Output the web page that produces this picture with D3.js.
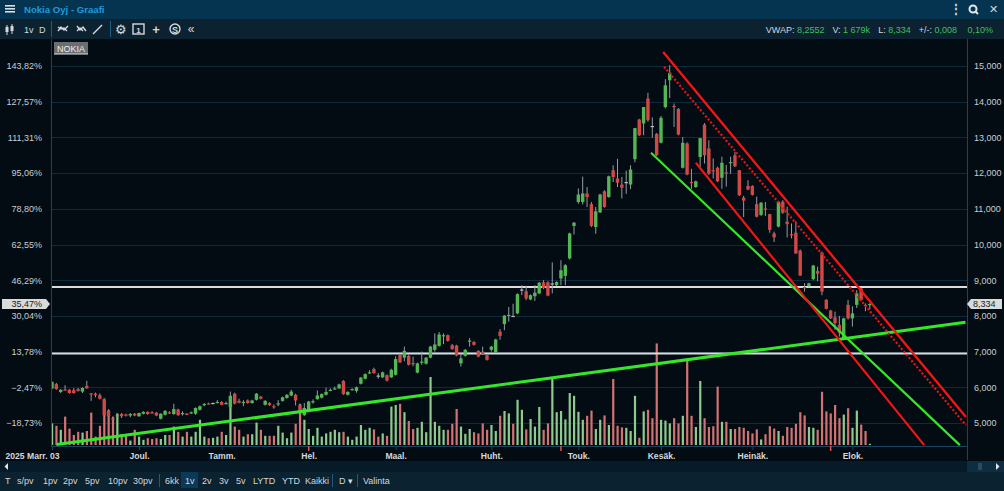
<!DOCTYPE html>
<html lang="fi">
<head>
  <meta charset="utf-8">
  <title>Nokia Oyj - Graafi</title>
  <script src="https://d3js.org/d3.v7.min.js"></script>
  <style>
    body { margin: 0; background: #020c12; overflow: hidden; }
    svg { display: block; font-family: "Liberation Sans", Arial, sans-serif; }
    .ax text { font-size: 9px; fill: #c9ced3; }
    .ax path { display: none; }
    .xax text { font-size: 8.6px; font-weight: bold; fill: #d4d9de; }
    .xax line { stroke: #1b4460; }
    .ui { font-size: 9px; fill: #d2d8de; }
    .grn { font-size: 9px; fill: #3cc15a; }
  </style>
</head>
<body>
  <div id="chart"></div>
  <script>
    // päivittäiset kurssit, 3.11.2025 ->
    var opens = [
      5.97,6.09,5.87,5.94,5.93,5.92,5.95,5.88,6.04,5.83,
      5.82,5.78,5.67,5.34,5.13,5.19,5.25,5.24,5.21,5.26,
      5.19,5.26,5.31,5.30,5.29,5.12,5.23,5.30,5.25,5.38,
      5.27,5.26,5.27,5.26,5.37,5.51,5.55,5.56,5.58,5.59,
      5.55,5.45,5.82,5.62,5.58,5.63,5.56,5.65,5.74,5.51,
      5.56,5.47,5.54,5.62,5.70,5.77,5.79,5.50,5.22,5.37,
      5.60,5.67,5.71,5.79,5.92,5.96,5.97,6.18,5.79,5.94,
      5.90,6.10,6.24,6.41,6.51,6.33,6.28,6.34,6.28,6.35,
      6.91,6.83,6.88,6.68,6.41,6.71,6.66,6.83,7.05,7.16,
      7.45,7.46,7.18,7.17,6.67,6.88,7.30,7.27,7.02,7.00,
      6.90,7.05,6.98,7.56,7.77,8.02,8.00,8.07,8.74,8.69,
      8.46,8.55,8.63,8.94,8.94,8.91,8.86,9.05,9.12,9.61,
      10.52,11.19,11.19,11.43,11.13,10.49,10.90,11.49,11.33,12.08,
      11.85,11.68,11.75,11.68,12.39,13.50,13.39,14.09,13.32,13.10,
      12.85,13.85,14.60,13.88,13.80,12.15,12.83,11.75,11.61,12.45,
      13.36,12.69,12.08,12.15,11.87,12.02,12.30,12.50,12.08,11.31,
      11.64,11.64,11.13,10.83,11.01,10.85,10.31,10.50,11.20,10.64,
      10.29,10.33,9.83,8.81,8.84,9.03,9.26,9.77,8.45,8.15,
      7.96,7.75,7.38,8.31,7.93,8.31,8.77,8.31,8.32
    ];
    var highs = [
      6.16,6.12,5.95,6.06,5.95,5.98,5.98,6.00,6.18,5.84,
      5.85,5.83,5.70,5.38,5.16,5.26,5.28,5.26,5.28,5.28,
      5.29,5.33,5.33,5.33,5.31,5.27,5.36,5.33,5.54,5.40,
      5.33,5.28,5.32,5.44,5.49,5.56,5.57,5.58,5.64,5.61,
      5.60,5.88,5.85,5.68,5.64,5.66,5.65,5.84,5.76,5.64,
      5.58,5.52,5.64,5.74,5.81,5.93,5.82,5.52,5.56,5.62,
      5.66,5.91,5.83,5.99,5.97,6.02,6.10,6.20,5.89,5.97,
      6.02,6.29,6.39,6.48,6.55,6.40,6.44,6.36,6.52,6.87,
      6.94,7.14,6.91,6.86,6.69,7.00,6.85,7.16,7.51,7.55,
      7.51,7.48,7.21,7.19,6.95,7.07,7.38,7.29,7.04,7.14,
      6.92,7.16,7.36,7.63,8.02,8.25,8.34,8.63,8.86,8.84,
      8.60,8.86,8.95,9.00,8.97,9.50,8.97,9.56,9.45,10.33,
      10.63,11.57,11.90,11.61,11.19,11.05,11.42,11.52,11.93,12.22,
      12.40,11.89,12.07,12.22,13.26,13.52,13.85,14.25,13.56,13.12,
      13.60,14.63,15.02,13.95,13.82,13.01,12.86,12.12,11.79,12.98,
      13.40,12.92,12.41,12.18,12.46,12.23,12.46,12.59,12.09,11.36,
      11.80,11.66,11.34,11.19,11.19,10.86,10.36,11.22,11.24,11.06,
      10.59,10.65,9.86,8.92,8.93,9.43,9.38,9.80,8.47,8.17,
      8.12,8.00,7.95,8.45,8.27,8.72,8.79,8.35,8.35
    ];
    var lows = [
      5.95,5.93,5.84,5.91,5.82,5.82,5.88,5.84,5.96,5.62,
      5.72,5.66,5.20,5.17,5.08,5.17,5.14,5.18,5.16,5.19,
      5.17,5.24,5.23,5.26,5.19,5.10,5.21,5.25,5.23,5.20,
      5.21,5.22,5.25,5.23,5.35,5.47,5.52,5.53,5.55,5.50,
      5.52,5.43,5.52,5.55,5.47,5.54,5.54,5.63,5.66,5.49,
      5.48,5.40,5.47,5.60,5.68,5.75,5.49,5.28,5.20,5.35,
      5.54,5.65,5.69,5.77,5.89,5.93,5.95,5.79,5.77,5.91,
      5.85,6.08,6.22,6.38,6.38,6.24,6.26,6.16,6.26,6.33,
      6.68,6.73,6.61,6.59,6.39,6.63,6.64,6.81,7.00,7.14,
      7.21,7.28,7.05,6.87,6.58,6.86,7.14,7.17,6.84,6.91,
      6.75,7.00,6.96,7.33,7.60,7.84,7.97,8.05,8.58,8.44,
      8.44,8.42,8.61,8.75,8.55,8.63,8.84,8.86,8.86,9.58,
      10.28,11.14,11.12,11.05,10.49,10.30,10.88,11.03,11.31,11.75,
      11.61,11.29,11.42,11.55,12.30,13.04,13.06,13.44,12.99,12.48,
      12.83,13.81,14.10,13.29,13.06,12.13,11.94,11.56,11.59,12.17,
      12.27,11.95,11.85,11.75,11.56,11.62,11.98,12.17,11.36,10.77,
      11.52,11.37,10.76,10.80,10.80,10.33,10.07,10.48,10.86,10.20,
      10.17,9.74,9.12,8.68,8.80,9.00,8.97,8.58,8.18,7.91,
      7.61,7.42,7.36,7.90,7.70,8.22,8.43,8.13,8.18
    ];
    var closes = [
      6.152,5.95,5.93,5.93,5.84,5.84,5.90,5.98,5.97,5.81,
      5.78,5.68,5.22,5.19,5.12,5.22,5.19,5.21,5.25,5.21,
      5.28,5.31,5.25,5.29,5.21,5.26,5.34,5.28,5.39,5.22,
      5.28,5.25,5.30,5.42,5.47,5.53,5.54,5.56,5.59,5.51,
      5.56,5.76,5.54,5.57,5.59,5.56,5.63,5.82,5.68,5.62,
      5.50,5.46,5.55,5.72,5.79,5.88,5.63,5.30,5.42,5.60,
      5.61,5.77,5.81,5.87,5.93,5.97,6.08,5.81,5.87,5.95,
      6.00,6.27,6.37,6.42,6.40,6.33,6.42,6.19,6.49,6.79,
      6.70,7.02,6.63,6.67,6.67,6.72,6.83,7.14,7.20,7.48,
      7.46,7.30,7.07,6.89,6.81,7.05,7.31,7.19,6.86,6.93,
      6.77,7.14,7.34,7.44,8.01,8.03,8.00,8.61,8.74,8.49,
      8.58,8.65,8.93,8.78,8.57,8.91,8.95,9.28,9.42,10.31,
      10.61,11.40,11.43,11.33,10.52,10.93,11.40,11.05,11.91,11.89,
      11.73,11.59,11.75,12.10,13.26,13.06,13.85,13.48,13.32,12.50,
      13.55,14.46,14.81,13.86,13.08,12.85,11.96,11.74,11.77,12.98,
      12.50,11.99,12.07,11.77,12.29,12.01,12.31,12.19,11.38,11.23,
      11.54,11.39,10.78,11.17,11.00,10.41,10.20,11.20,10.89,10.57,
      10.28,9.75,9.13,8.79,8.91,9.41,9.18,8.68,8.20,7.93,
      7.80,7.53,7.93,7.93,8.07,8.63,8.45,8.30,8.334
    ];
    // vaihto, milj. kpl
    var volumes = [
      5.4,4.8,3.8,7.1,4.1,2.5,3.3,3.1,3.5,8.1,
      2.1,4.8,10.0,8.8,7.1,7.9,2.7,2.7,1.1,3.8,
      2.1,1.3,1.7,1.5,1.7,1.5,2.5,2.5,4.6,3.3,
      2.1,3.3,2.1,3.3,6.3,2.1,1.7,1.8,2.1,3.3,
      2.5,12.3,4.6,3.8,2.1,2.7,2.7,5.6,3.8,2.3,
      2.3,2.3,4.8,3.1,1.7,3.1,5.3,10.3,6.3,4.0,
      2.3,4.3,2.1,2.9,3.3,3.8,3.2,3.3,2.1,1.3,
      2.1,5.0,3.8,4.3,3.9,2.1,2.9,2.3,9.6,10.0,
      10.3,8.2,6.0,4.0,4.3,5.8,3.2,17.0,5.8,4.8,
      3.8,3.8,5.3,9.0,4.6,2.8,4.0,3.2,2.9,5.4,
      3.8,5.0,3.5,7.3,8.5,7.9,5.3,11.3,8.8,3.9,
      6.5,4.6,9.5,3.8,5.4,16.8,8.2,8.5,6.4,13.0,
      12.3,8.3,6.3,7.3,8.6,4.0,6.3,7.4,5.0,16.5,
      4.8,4.4,4.3,3.5,12.3,1.8,8.4,8.8,6.7,25.4,
      6.3,6.1,5.4,6.7,5.4,7.3,21.3,7.3,4.5,16.0,
      6.7,4.5,4.7,14.6,5.8,5.8,4.0,4.0,4.5,4.3,
      3.5,2.9,3.9,1.4,2.7,4.7,4.1,3.5,2.3,4.5,
      4.3,5.3,8.2,7.4,4.5,4.3,3.8,13.3,8.4,7.9,
      10.0,6.7,7.6,9.2,4.3,8.6,5.1,3.5,0.3
    ];

    var monthIdx = [0, 20, 39, 59, 79, 101, 121, 140, 161, 184];
    var monthLabels = ['2025 Marr. 03', 'Joul.', 'Tamm.', 'Hel.', 'Maal.', 'Huht.', 'Touk.', 'Kesäk.', 'Heinäk.', 'Elok.'];
    var eventIdx = [59, 117, 179];
    var priceTicks = [15, 14, 13, 12, 11, 10, 9, 8, 7, 6, 5];
    var levels = [8.81, 6.95];
    // trendiviivat: [indeksi, hinta] -> [indeksi, hinta]
    var greenUp = [[1, 4.40], [210, 7.82]];
    var greenDown = [[137.7, 12.57], [208.7, 4.38]];
    var redTop = [[140.5, 15.39], [210.1, 5.17]];
    var redDots = [[140.7, 14.98], [210.1, 4.94]];
    var redLow = [[148, 12.29], [200.5, 4.38]];
    var headerLabels = ['VWAP:', 'V:', 'L:', '+/-:', ''];
    var headerValues = ['8,2552', '1 679k', '8,334', '0,008', '0,10%'];
    var periods = ['T', 's/pv', '1pv', '2pv', '5pv', '10pv', '30pv', '|', '6kk', '1v', '2v', '3v', '5v', 'LYTD', 'YTD', 'Kaikki', '|', 'D \u25BE', '|', 'Valinta'];

    var W = 1004, H = 491;
    var L = 51, R = 967, T = 39, B = 446;
    var fi = d3.formatLocale({decimal: ',', thousands: ' ', grouping: [3], currency: ['', '']});
    var f3 = fi.format('.3f'), f2 = fi.format('.2f');

    var x = d3.scaleLinear().domain([0, 210]).range([52, 965.5]);
    var y = d3.scaleLinear().domain([5, 15]).range([423, 66]);
    var yv = d3.scaleLinear().domain([0, 30]).range([445, 325]);

    var data = closes.map(function (c, i) {
      return {i: i, o: opens[i], h: highs[i], l: lows[i], c: c, v: volumes[i], pc: i ? closes[i - 1] : opens[i]};
    });

    var svg = d3.select('#chart').append('svg')
      .attr('width', W)
      .attr('height', H);

    svg.append('rect').attr('width', W).attr('height', H).attr('fill', '#020c12');

    // otsikkopalkki
    svg.append('rect').attr('width', W).attr('height', 19).attr('fill', '#053451');
    [6, 9, 12].forEach(function (yy) {
      svg.append('rect').attr('x', 5).attr('y', yy - 1).attr('width', 10).attr('height', 1.6).attr('fill', '#d8dee4');
    });
    svg.append('text').attr('x', 24).attr('y', 13).attr('fill', '#1f9ad6')
      .style('font-size', '9.6px').style('font-weight', 'bold').text('Nokia Oyj - Graafi');
    svg.append('text').attr('class', 'ui').attr('x', 956).attr('y', 13).attr('text-anchor', 'middle')
      .style('font-size', '12px').style('font-weight', 'bold').text('\u22EE');
    svg.append('circle').attr('cx', 973).attr('cy', 9).attr('r', 3.5).attr('fill', 'none').attr('stroke', '#e4e8ec').attr('stroke-width', 2);
    svg.append('line').attr('x1', 975.5).attr('y1', 11.5).attr('x2', 978).attr('y2', 14).attr('stroke', '#e4e8ec').attr('stroke-width', 2);
    svg.append('text').attr('class', 'ui').attr('x', 993).attr('y', 13).attr('text-anchor', 'middle')
      .style('font-size', '11px').text('\u2715');

    // työkalurivi
    svg.append('rect').attr('y', 19).attr('width', W).attr('height', 20).attr('fill', '#0d2231');
    var tb = svg.append('g').attr('stroke', '#d2d8de').attr('fill', '#d2d8de');
    [[7, 25, 35, 27, 32], [12, 24, 34, 26, 31]].forEach(function (c) {
      tb.append('line').attr('x1', c[0]).attr('x2', c[0]).attr('y1', c[1]).attr('y2', c[2]);
      tb.append('rect').attr('x', c[0] - 1.5).attr('y', c[3]).attr('width', 3).attr('height', c[4] - c[3]).attr('stroke', 'none');
    });
    svg.append('text').attr('class', 'ui').attr('x', 24).attr('y', 33).text('1v');
    svg.append('text').attr('class', 'ui').attr('x', 39).attr('y', 33).text('D');
    [51.5, 110.5].forEach(function (sx) {
      svg.append('line').attr('x1', sx).attr('x2', sx).attr('y1', 21).attr('y2', 37).attr('stroke', '#1f5d80');
    });
    tb.append('polyline').attr('points', '58,31 61,27 64,30 68,26').attr('fill', 'none').attr('stroke-width', 1.4);
    tb.append('polyline').attr('points', '58,27 61,29 64,28 67,31').attr('fill', 'none').attr('stroke-width', 1.4);
    tb.append('polyline').attr('points', '77,26 80,30 83,27 86,31').attr('fill', 'none').attr('stroke-width', 1.4);
    tb.append('polyline').attr('points', '77,31 80,28 83,31').attr('fill', 'none').attr('stroke-width', 1.4);
    tb.append('line').attr('x1', 93).attr('y1', 34).attr('x2', 102).attr('y2', 25).attr('stroke-width', 1.4);
    svg.append('text').attr('class', 'ui').attr('x', 121).attr('y', 34).attr('text-anchor', 'middle').style('font-size', '13px').text('\u2699');
    tb.append('rect').attr('x', 133).attr('y', 24).attr('width', 11).attr('height', 10).attr('fill', 'none').attr('stroke-width', 1.4);
    svg.append('text').attr('x', 138.5).attr('y', 32.5).attr('text-anchor', 'middle').attr('fill', '#d2d8de').style('font-size', '8px').style('font-weight', 'bold').text('1');
    svg.append('text').attr('class', 'ui').attr('x', 156).attr('y', 34).attr('text-anchor', 'middle').style('font-size', '13px').style('font-weight', 'bold').text('+');
    tb.append('circle').attr('cx', 175).attr('cy', 29).attr('r', 5).attr('fill', 'none').attr('stroke-width', 1.4);
    svg.append('text').attr('x', 175).attr('y', 32.5).attr('text-anchor', 'middle').attr('fill', '#d2d8de').style('font-size', '9px').style('font-weight', 'bold').text('S');
    svg.append('text').attr('class', 'ui').attr('x', 191).attr('y', 33).attr('text-anchor', 'middle').style('font-size', '12px').text('\u00AB');

    // VWAP-rivi, asetellaan oikealta vasemmalle
    var hxEnd = 993;
    for (var k = headerValues.length - 1; k >= 0; k--) {
      var tv = svg.append('text').attr('class', 'grn').attr('y', 33).attr('text-anchor', 'end')
        .attr('x', hxEnd).text(headerValues[k]);
      hxEnd -= tv.node().getComputedTextLength() + 2.5;
      if (headerLabels[k]) {
        var tl = svg.append('text').attr('class', 'ui').attr('y', 33).attr('text-anchor', 'end')
          .attr('x', hxEnd).text(headerLabels[k]);
        hxEnd -= tl.node().getComputedTextLength();
      }
      hxEnd -= 8;
    }

    // ruudukko
    svg.append('g').selectAll('line.grid')
      .data(priceTicks)
      .enter().append('line')
      .attr('x1', L).attr('x2', R)
      .attr('y1', function (d) { return Math.round(y(d)) + 0.5; })
      .attr('y2', function (d) { return Math.round(y(d)) + 0.5; })
      .attr('stroke', '#0e2a3d');

    svg.append('line').attr('x1', L + 0.5).attr('x2', L + 0.5).attr('y1', T).attr('y2', B).attr('stroke', '#1b4460');
    svg.append('line').attr('x1', R + 0.5).attr('x2', R + 0.5).attr('y1', T).attr('y2', B + 14).attr('stroke', '#1b4460');

    svg.append('clipPath').attr('id', 'plot')
      .append('rect').attr('x', L + 1).attr('y', T).attr('width', R - L - 1).attr('height', B - T);
    var plot = svg.append('g').attr('clip-path', 'url(#plot)');

    function dir(d) { return d.c > d.o ? 'up' : (d.c < d.o ? 'down' : 'flat'); }
    function vdir(d) {
      var k = dir(d);
      if (k !== 'flat') return k;
      return d.c > d.pc ? 'up' : (d.c < d.pc ? 'down' : 'flat');
    }
    var volCol = {up: '#8ec98e', down: '#d27272', flat: '#a2a7ac'};
    var bodyCol = {up: '#55b655', down: '#d24848', flat: '#b9bdc1'};

    plot.selectAll('rect.vol')
      .data(data)
      .enter().append('rect')
      .attr('class', 'vol')
      .attr('x', function (d) { return x(d.i) - 1; })
      .attr('y', function (d) { return yv(d.v); })
      .attr('width', 2.2)
      .attr('height', function (d) { return yv(0) - yv(d.v); })
      .attr('fill', function (d) { return volCol[vdir(d)]; });

    plot.selectAll('line.lvl')
      .data(levels)
      .enter().append('line')
      .attr('x1', L).attr('x2', R)
      .attr('y1', function (d) { return y(d); })
      .attr('y2', function (d) { return y(d); })
      .attr('stroke', '#dcdcdc')
      .attr('stroke-width', 2);

    plot.selectAll('line.wick')
      .data(data)
      .enter().append('line')
      .attr('class', 'wick')
      .attr('x1', function (d) { return x(d.i); })
      .attr('x2', function (d) { return x(d.i); })
      .attr('y1', function (d) { return y(d.h); })
      .attr('y2', function (d) { return y(d.l); })
      .attr('stroke', '#959ca2');

    plot.selectAll('rect.body')
      .data(data)
      .enter().append('rect')
      .attr('class', 'body')
      .attr('x', function (d) { return x(d.i) - 1.7; })
      .attr('y', function (d) { return y(Math.max(d.o, d.c)); })
      .attr('width', 3.4)
      .attr('height', function (d) { return Math.max(1.2, Math.abs(y(d.o) - y(d.c))); })
      .attr('fill', function (d) { return bodyCol[dir(d)]; });

    function seg(p, col, w, dash) {
      plot.append('line')
        .attr('x1', x(p[0][0])).attr('y1', y(p[0][1]))
        .attr('x2', x(p[1][0])).attr('y2', y(p[1][1]))
        .attr('stroke', col).attr('stroke-width', w)
        .attr('stroke-dasharray', dash || null);
    }
    seg(greenUp, '#36e62a', 3);
    seg(greenDown, '#36e62a', 2.2);
    seg(redLow, '#f01616', 2.2);
    seg(redTop, '#f01616', 2.4);
    seg(redDots, '#e81515', 2.2, '2,2');

    // NOKIA-tunniste
    svg.append('rect').attr('x', 54).attr('y', 42).attr('width', 34).attr('height', 12).attr('fill', '#6b6d70');
    svg.append('line').attr('x1', 54).attr('x2', 88).attr('y1', 54).attr('y2', 54).attr('stroke', '#e6e6e6');
    svg.append('text').attr('x', 57).attr('y', 51.5).attr('fill', '#eceff2').style('font-size', '9px').text('NOKIA');

    // akselit
    var base = closes[0];
    svg.append('g').attr('class', 'ax')
      .attr('transform', 'translate(' + R + ',0)')
      .call(d3.axisRight(y).tickValues(priceTicks).tickSize(0).tickPadding(7).tickFormat(f3));
    svg.append('g').attr('class', 'ax')
      .attr('transform', 'translate(' + L + ',0)')
      .call(d3.axisLeft(y).tickValues(priceTicks).tickSize(0).tickPadding(9)
        .tickFormat(function (d) { return f2((d / base - 1) * 100) + '%'; }));

    var last = closes[closes.length - 1];
    var ly = Math.round(y(last));
    svg.append('path')
      .attr('d', 'M' + R + ',' + ly + 'L' + (R + 4) + ',' + (ly - 5) + 'H1002V' + (ly + 5) + 'H' + (R + 4) + 'Z')
      .attr('fill', '#d9dadb');
    svg.append('text').attr('x', R + 6).attr('y', ly + 3.2).attr('fill', '#222').style('font-size', '9px').text(f3(last));
    svg.append('path')
      .attr('d', 'M2,' + (ly - 5) + 'H46L50,' + ly + 'L46,' + (ly + 5) + 'H2Z')
      .attr('fill', '#d9dadb');
    svg.append('text').attr('x', 42).attr('y', ly + 3.2).attr('text-anchor', 'end').attr('fill', '#222')
      .style('font-size', '9px').text(f2((last / base - 1) * 100) + '%');

    var xa = svg.append('g').attr('class', 'xax')
      .attr('transform', 'translate(0,' + B + ')')
      .call(d3.axisBottom(x).tickValues(monthIdx).tickSize(4).tickPadding(3)
        .tickFormat(function (d, i) { return monthLabels[i]; }));
    xa.select('path').attr('stroke', '#1b4460').attr('d', 'M' + L + ',0.5H' + R);
    xa.selectAll('.tick').filter(function (d, i) { return i === 0; })
      .select('text').attr('text-anchor', 'start').attr('x', 5 - x(0));

    svg.selectAll('line.evt')
      .data(eventIdx)
      .enter().append('line')
      .attr('x1', function (d) { return x(d); })
      .attr('x2', function (d) { return x(d); })
      .attr('y1', B).attr('y2', B + 5)
      .attr('stroke', '#e05050').attr('stroke-width', 1.5);

    // vierityspalkki
    svg.append('rect').attr('y', 461).attr('width', W).attr('height', 11).attr('fill', '#061b27');
    svg.append('path').attr('d', 'M8,463V470L4.5,466.5Z').attr('fill', '#e0e4e8');
    svg.append('rect').attr('x', R).attr('y', 461).attr('width', W - R).attr('height', 11).attr('fill', '#0c2d42');
    svg.append('rect').attr('x', 978).attr('y', 463).attr('width', 4).attr('height', 7).attr('fill', '#2b4a5e');
    svg.append('path').attr('d', 'M996,463V470L999.5,466.5Z').attr('fill', '#e0e4e8');

    // jaksovalitsin
    svg.append('rect').attr('y', 472).attr('width', W).attr('height', H - 472).attr('fill', '#0b2230');
    var px = [5, 17, 43, 63, 85, 108, 133, 159, 165, 185, 202, 219, 236, 253, 282, 305, 332, 339, 357, 363];
    svg.append('rect').attr('x', 181).attr('y', 472).attr('width', 17).attr('height', 16).attr('fill', '#0a3a58');
    periods.forEach(function (t, i) {
      if (t === '|') {
        svg.append('line').attr('x1', px[i] + 0.5).attr('x2', px[i] + 0.5).attr('y1', 474).attr('y2', 487).attr('stroke', '#1f5d80');
      } else {
        svg.append('text').attr('class', 'ui').attr('x', px[i]).attr('y', 484).text(t);
      }
    });
  </script>
</body>
</html>
